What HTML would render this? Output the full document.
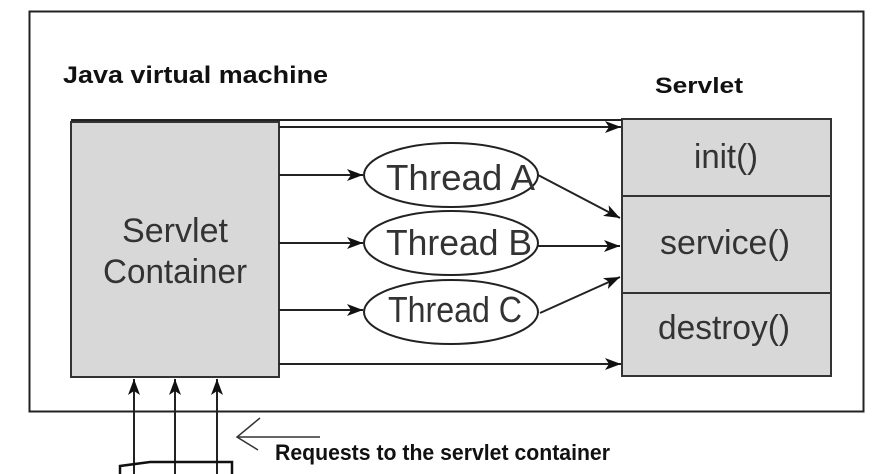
<!DOCTYPE html>
<html><head><style>body{margin:0;background:#fff}svg{display:block}</style></head><body>
<svg width="894" height="474" viewBox="0 0 894 474" xmlns="http://www.w3.org/2000/svg">
<defs><marker id="a" markerWidth="16" markerHeight="12" refX="16" refY="6" orient="auto" markerUnits="userSpaceOnUse"><path d="M0,0 L16,6 L0,12 L4,6 Z" fill="#111"/></marker></defs>
<rect x="29.5" y="11.5" width="834" height="400" fill="#fff" stroke="#222" stroke-width="2"/>
<text x="63" y="83" font-family="Liberation Sans, sans-serif" font-weight="bold" font-size="24" fill="#111" textLength="265" lengthAdjust="spacingAndGlyphs">Java virtual machine</text>
<text x="655" y="93" font-family="Liberation Sans, sans-serif" font-weight="bold" font-size="22" fill="#111" textLength="88" lengthAdjust="spacingAndGlyphs">Servlet</text>
<rect x="71" y="122" width="208" height="255" fill="#d8d8d8" stroke="#333" stroke-width="2"/>
<g font-family="Liberation Sans, sans-serif" font-size="34" fill="#333" lengthAdjust="spacingAndGlyphs">
<text x="122" y="242" textLength="106" lengthAdjust="spacingAndGlyphs">Servlet</text>
<text x="103" y="283" textLength="144" lengthAdjust="spacingAndGlyphs">Container</text></g>
<rect x="622" y="119" width="209" height="257" fill="#d8d8d8" stroke="#333" stroke-width="2"/>
<line x1="622" y1="196" x2="831" y2="196" stroke="#333" stroke-width="2"/>
<line x1="622" y1="293" x2="831" y2="293" stroke="#333" stroke-width="2"/>
<g font-family="Liberation Sans, sans-serif" font-size="34" fill="#333">
<text x="694" y="168" textLength="64" lengthAdjust="spacingAndGlyphs">init()</text>
<text x="660" y="254" textLength="130" lengthAdjust="spacingAndGlyphs">service()</text>
<text x="658" y="339" textLength="132" lengthAdjust="spacingAndGlyphs">destroy()</text></g>
<line x1="71" y1="120" x2="622" y2="120" stroke="#222" stroke-width="2"/>
<g stroke="#222" stroke-width="2" fill="none" marker-end="url(#a)">
<line x1="279" y1="127" x2="621" y2="127"/>
<line x1="279" y1="175" x2="363" y2="175"/>
<line x1="279" y1="243" x2="363" y2="243"/>
<line x1="279" y1="310" x2="363" y2="310"/>
<line x1="279" y1="364" x2="621" y2="364"/>
<line x1="538" y1="175" x2="620" y2="218"/>
<line x1="538" y1="246" x2="620" y2="246"/>
<line x1="540" y1="313" x2="620" y2="277"/>
<line x1="134" y1="474" x2="134" y2="379"/>
<line x1="175" y1="474" x2="175" y2="379"/>
<line x1="217" y1="474" x2="217" y2="379"/>
</g>
<g fill="#fff" stroke="#222" stroke-width="2">
<ellipse cx="451" cy="175" rx="87" ry="32"/>
<ellipse cx="451" cy="243" rx="87" ry="32"/>
<ellipse cx="451" cy="312" rx="87" ry="32"/>
</g>
<g font-family="Liberation Sans, sans-serif" font-size="36" fill="#333">
<text x="386" y="190" textLength="149" lengthAdjust="spacingAndGlyphs">Thread A</text>
<text x="386" y="255" textLength="146" lengthAdjust="spacingAndGlyphs">Thread B</text>
<text x="388" y="322" textLength="134" lengthAdjust="spacingAndGlyphs">Thread C</text></g>
<path d="M120,474 L120,466 L150,462 L232,462 L232,474" fill="none" stroke="#111" stroke-width="2.5"/>
<line x1="237" y1="437" x2="320" y2="437" stroke="#333" stroke-width="1.5"/>
<path d="M260,418 L237,437 L258,450" fill="none" stroke="#333" stroke-width="1.5"/>
<text x="275" y="460" font-family="Liberation Sans, sans-serif" font-weight="bold" font-size="22" fill="#111" textLength="335" lengthAdjust="spacingAndGlyphs">Requests to the servlet container</text>
</svg>
</body></html>
